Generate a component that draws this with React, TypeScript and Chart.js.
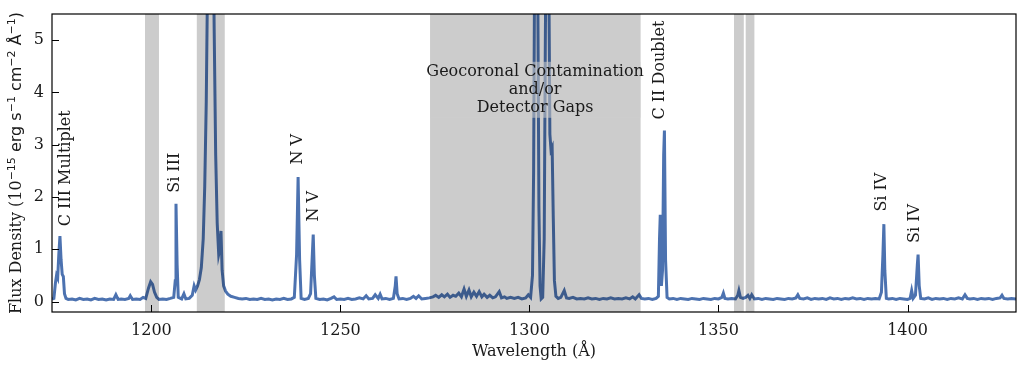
import React, { useEffect, useRef } from "react";
import { Chart, registerables } from "chart.js";

Chart.register(...registerables);

// Spectrum samples: wavelength (Å) and flux density (1e-15 erg s^-1 cm^-2 Å^-1)
const wavelength = [
  1173.7, 1174.2, 1174.6, 1174.9, 1175.2, 1175.5, 1175.8, 1176.1, 1176.4, 1176.7, 1177.0, 1177.4,
  1178, 1179, 1180, 1181, 1182, 1183, 1184, 1185, 1186, 1187, 1188, 1189, 1190, 1190.6, 1191.2,
  1192, 1193, 1194, 1194.4, 1195, 1196, 1197, 1197.8, 1198.5, 1199.2, 1199.8, 1200.3, 1200.8,
  1201.4, 1202, 1203, 1204, 1205, 1205.9, 1206.3, 1206.5, 1206.8, 1207.1, 1208, 1208.6, 1209.1,
  1210, 1210.8, 1211.3, 1211.7, 1212.2, 1212.7, 1213.2, 1213.7, 1214.1, 1214.5, 1214.9, 1215.4,
  1215.8, 1216.2, 1216.6, 1217.0, 1217.4, 1217.8, 1218.1, 1218.4, 1218.7, 1219.1, 1219.6, 1220.2,
  1221, 1222, 1223, 1224, 1225, 1226, 1227, 1228, 1229, 1230, 1231, 1232, 1233, 1234, 1235, 1236,
  1237, 1237.8, 1238.4, 1238.8, 1239.2, 1239.6, 1240.5, 1241.5, 1242.1, 1242.5, 1242.8, 1243.1,
  1243.5, 1244.5, 1245.5, 1246.5, 1247.5, 1248.3, 1249, 1250, 1251, 1252, 1253, 1254, 1255, 1256,
  1256.8, 1257.5, 1258.5, 1259.2, 1260, 1260.5, 1261, 1262, 1263, 1264, 1264.5, 1264.7, 1265,
  1265.5, 1266.5, 1267.5, 1268.5, 1269.3, 1270, 1270.7, 1271.5, 1272.5, 1273.5, 1274.5, 1275.2,
  1276, 1276.8, 1277.5, 1278.3, 1279, 1279.8, 1280.5, 1281.3, 1282, 1282.7, 1283.3, 1284, 1284.6,
  1285.3, 1286, 1286.7, 1287.4, 1288, 1288.8, 1289.5, 1290.3, 1291, 1292, 1292.6, 1293.4, 1294,
  1295, 1296, 1297, 1298, 1299, 1299.7, 1300.3, 1300.8, 1301.1, 1301.4, 1301.8, 1302.2, 1302.5,
  1302.8, 1303.1, 1303.5, 1303.9, 1304.2, 1304.7, 1305.1, 1305.4, 1305.7, 1306.0, 1306.3, 1306.6,
  1307, 1307.6, 1308.3, 1309.2, 1309.8, 1310.5, 1311.5, 1312.5, 1313.5, 1314.5, 1315.5, 1316.5,
  1317.5, 1318.5, 1319.5, 1320.5, 1321.5, 1322.5, 1323.5, 1324.5, 1325.5, 1326.5, 1327.3, 1328,
  1329, 1329.6, 1330.5, 1331.5, 1332.5, 1333.5, 1334.1, 1334.4, 1334.6, 1334.9, 1335.2, 1335.5,
  1335.7, 1336.0, 1336.4, 1337, 1338, 1339, 1340, 1341, 1342, 1343, 1344, 1345, 1346, 1347, 1348,
  1349, 1350, 1350.9, 1351.3, 1351.7, 1352.5, 1353.5, 1354.5, 1355.1, 1355.4, 1355.8, 1356.5,
  1357.2, 1357.8, 1358.3, 1358.8, 1359.5, 1360.5, 1361.5, 1362.5, 1363.5, 1364.5, 1365.5, 1366.5,
  1367.5, 1368.5, 1369.5, 1370.5, 1371, 1371.5, 1372.5, 1373.5, 1374.5, 1375.5, 1376.5, 1377.5,
  1378.5, 1379.5, 1380.5, 1381.5, 1382.5, 1383.5, 1384.5, 1385.5, 1386.5, 1387.5, 1388.5, 1389.5,
  1390.5, 1391.5, 1392.5, 1393.1, 1393.5, 1393.75, 1394.0, 1394.4, 1395, 1396, 1397, 1398, 1399,
  1400, 1400.7, 1401.1, 1401.5, 1402.1, 1402.6, 1402.8, 1403.1, 1403.5, 1404.5, 1405.5, 1406.5,
  1407.5, 1408.5, 1409.5, 1410.5, 1411.5, 1412.5, 1413.5, 1414.5, 1415.2, 1415.8, 1416.5, 1417.5,
  1418.5, 1419.5, 1420.5, 1421.5, 1422.5, 1423.5, 1424.5, 1425, 1425.5, 1426.5, 1427.5, 1428.7,
];

const flux = [
  0.05, 0.06, 0.35, 0.50, 0.45, 0.9, 1.25, 0.8, 0.52, 0.48, 0.15, 0.06,
  0.04, 0.05, 0.03, 0.06, 0.04, 0.05, 0.03, 0.06, 0.04, 0.05, 0.03, 0.05, 0.04, 0.13, 0.04,
  0.05, 0.04, 0.06, 0.11, 0.04, 0.05, 0.04, 0.08, 0.06, 0.25, 0.38, 0.33, 0.18,
  0.08, 0.04, 0.05, 0.04, 0.06, 0.08, 0.4, 1.87, 0.7, 0.08, 0.05, 0.15, 0.05,
  0.06, 0.12, 0.3, 0.22, 0.3, 0.42, 0.65, 1.2, 2.2, 3.8, 6.5, 14,
  16, 8, 5.2, 2.8, 1.5, 0.9, 1.0, 1.35, 0.6, 0.3, 0.2, 0.14,
  0.1, 0.08, 0.06, 0.05, 0.06, 0.04, 0.05, 0.04, 0.06, 0.04, 0.05, 0.03, 0.05, 0.04, 0.06, 0.04,
  0.05, 0.08, 0.9, 2.38, 0.8, 0.06, 0.04, 0.06, 0.15, 0.8, 1.28, 0.5,
  0.06, 0.04, 0.05, 0.03, 0.06, 0.09, 0.04, 0.05, 0.04, 0.06, 0.04, 0.05, 0.07, 0.05,
  0.11, 0.05, 0.06, 0.13, 0.06, 0.14, 0.05, 0.06, 0.04, 0.06, 0.30, 0.48, 0.15,
  0.05, 0.06, 0.04, 0.06, 0.10, 0.06, 0.11, 0.05, 0.06, 0.07, 0.09, 0.12,
  0.08, 0.13, 0.09, 0.14, 0.08, 0.12, 0.10, 0.16, 0.09, 0.24, 0.10, 0.22, 0.09,
  0.18, 0.10, 0.19, 0.09, 0.14, 0.08, 0.12, 0.07, 0.09, 0.19, 0.07, 0.09, 0.06,
  0.08, 0.06, 0.08, 0.05, 0.07, 0.13, 0.08, 0.5, 2.5, 7, 10, 6, 1.8,
  0.3, 0.05, 0.08, 1.2, 5, 10, 6.5, 3.2, 2.9, 2.95, 1.6, 0.4,
  0.1, 0.06, 0.08, 0.21, 0.07, 0.06, 0.08, 0.05, 0.06, 0.05, 0.07, 0.05,
  0.06, 0.04, 0.06, 0.05, 0.07, 0.05, 0.06, 0.05, 0.07, 0.05, 0.09, 0.05,
  0.13, 0.06, 0.05, 0.06, 0.04, 0.06, 0.1, 1.2, 1.66, 0.3, 0.6, 2.8,
  3.27, 0.8, 0.08, 0.05, 0.06, 0.04, 0.06, 0.05, 0.04, 0.06, 0.05, 0.04, 0.06, 0.05, 0.04,
  0.06, 0.05, 0.08, 0.16, 0.06, 0.05, 0.06, 0.05, 0.12, 0.21, 0.08, 0.06,
  0.08, 0.12, 0.06, 0.13, 0.05, 0.06, 0.04, 0.06, 0.05, 0.04, 0.06, 0.05,
  0.04, 0.06, 0.05, 0.07, 0.13, 0.06, 0.05, 0.07, 0.04, 0.06, 0.05, 0.06,
  0.04, 0.07, 0.05, 0.06, 0.04, 0.06, 0.05, 0.07, 0.05, 0.06, 0.04, 0.06,
  0.05, 0.06, 0.05, 0.18, 0.9, 1.48, 0.6, 0.06, 0.05, 0.06, 0.04, 0.06, 0.05,
  0.04, 0.06, 0.21, 0.06, 0.12, 0.7, 0.9, 0.3, 0.06, 0.05, 0.07, 0.04,
  0.06, 0.05, 0.06, 0.04, 0.06, 0.05, 0.07, 0.05, 0.13, 0.06, 0.05, 0.06,
  0.04, 0.06, 0.05, 0.06, 0.04, 0.06, 0.07, 0.12, 0.06, 0.05, 0.06, 0.05,
];

const xTicks = [1200, 1250, 1300, 1350, 1400];
const yTicks = [0, 1, 2, 3, 4, 5];

// shaded wavelength ranges (geocoronal contamination / detector gaps)
const maskStart = [1198.3, 1212.0, 1273.7, 1354.1, 1357.2];
const maskEnd = [1202.0, 1219.4, 1329.4, 1356.7, 1359.5];

// emission-line labels
const lineLabels = ["C III Multiplet", "Si III", "N V", "N V", "C II Doublet", "Si IV", "Si IV"];
const labelWave = [1177.3, 1206.3, 1238.6, 1242.9, 1334.5, 1393.2, 1402.0];
const labelFlux = [1.44, 2.08, 2.62, 1.53, 3.48, 1.72, 1.12];

const maskText = ["Geocoronal Contamination", "and/or", "Detector Gaps"];
const maskTextWave = 1301.5;
const maskTextFlux = 4.05;

const xTitle = "Wavelength (Å)";

const SERIF = '"DejaVu Serif", serif';
const SANS = '"DejaVu Sans", sans-serif';
const TEXT = "#1a1a1a";
const FS = 16;

const overlayPlugin = {
  id: "overlay",
  afterDatasetsDraw(chart: any) {
    const { ctx, chartArea: a } = chart;
    const xs = chart.scales.x;
    const ys = chart.scales.y;
    ctx.save();
    ctx.beginPath();
    ctx.rect(a.left, a.top, a.right - a.left, a.bottom - a.top);
    ctx.clip();
    ctx.fillStyle = "rgba(0,0,0,0.2)";
    for (let i = 0; i < maskStart.length; i++) {
      const x0 = xs.getPixelForValue(maskStart[i]);
      const x1 = xs.getPixelForValue(maskEnd[i]);
      ctx.fillRect(x0, a.top, x1 - x0, a.bottom - a.top);
    }
    ctx.restore();

    // central label with a translucent box (visible only inside the big shaded band)
    ctx.save();
    ctx.font = `${FS}px ${SERIF}`;
    const cx = xs.getPixelForValue(maskTextWave);
    const cy = ys.getPixelForValue(maskTextFlux);
    const lh = 18;
    let w = 0;
    for (const t of maskText) w = Math.max(w, ctx.measureText(t).width);
    const bx0 = xs.getPixelForValue(maskStart[2]);
    const bx1 = xs.getPixelForValue(maskEnd[2]);
    ctx.save();
    ctx.beginPath();
    ctx.rect(bx0, a.top, bx1 - bx0, a.bottom - a.top);
    ctx.clip();
    ctx.fillStyle = "rgba(204,204,204,0.55)";
    ctx.fillRect(cx - w / 2 - 2, cy - lh * 1.5 - 1, w + 4, lh * 3 + 2);
    ctx.restore();
    ctx.fillStyle = TEXT;
    ctx.textAlign = "center";
    ctx.textBaseline = "middle";
    maskText.forEach((t, i) => ctx.fillText(t, cx, cy - lh + i * lh));
    ctx.restore();

    // rotated line labels
    ctx.save();
    ctx.font = `${FS}px ${SERIF}`;
    ctx.fillStyle = TEXT;
    for (let i = 0; i < lineLabels.length; i++) {
      const px = xs.getPixelForValue(labelWave[i]);
      const py = ys.getPixelForValue(labelFlux[i]);
      ctx.save();
      ctx.translate(px, py);
      ctx.rotate(-Math.PI / 2);
      ctx.textAlign = "left";
      ctx.textBaseline = "middle";
      ctx.fillText(lineLabels[i], 0, 0);
      ctx.restore();
    }
    ctx.restore();
  },
  afterDraw(chart: any) {
    const { ctx, chartArea: a } = chart;
    const xs = chart.scales.x;
    const ys = chart.scales.y;
    ctx.save();
    ctx.strokeStyle = "#000";
    ctx.lineWidth = 1.2;
    ctx.strokeRect(a.left, a.top, a.right - a.left, a.bottom - a.top);
    ctx.lineWidth = 1;
    ctx.beginPath();
    for (const v of xTicks) {
      const px = Math.round(xs.getPixelForValue(v)) + 0.5;
      ctx.moveTo(px, a.bottom);
      ctx.lineTo(px, a.bottom - 7);
    }
    for (const v of yTicks) {
      const py = Math.round(ys.getPixelForValue(v)) + 0.5;
      ctx.moveTo(a.left, py);
      ctx.lineTo(a.left + 7, py);
    }
    ctx.stroke();

    // x title
    ctx.fillStyle = TEXT;
    ctx.font = `${FS}px ${SERIF}`;
    ctx.textAlign = "center";
    ctx.textBaseline = "middle";
    ctx.fillText(xTitle, (a.left + a.right) / 2, 352);

    // y title with superscripts
    const segs: [string, string, boolean][] = [
      ["Flux Density (10", `${FS}px ${SERIF}`, false],
      ["−15", `11px ${SANS}`, true],
      [" erg s", `${FS}px ${SANS}`, false],
      ["−1", `11px ${SANS}`, true],
      [" cm", `${FS}px ${SANS}`, false],
      ["−2", `11px ${SANS}`, true],
      [" Å", `${FS}px ${SANS}`, false],
      ["−1", `11px ${SANS}`, true],
      [")", `${FS}px ${SANS}`, false],
    ];
    let total = 0;
    for (const s of segs) {
      ctx.font = s[1];
      total += ctx.measureText(s[0]).width;
    }
    ctx.translate(15, (a.top + a.bottom) / 2);
    ctx.rotate(-Math.PI / 2);
    ctx.textAlign = "left";
    ctx.textBaseline = "alphabetic";
    let x = -total / 2;
    for (const s of segs) {
      ctx.font = s[1];
      ctx.fillText(s[0], x, s[2] ? -0.5 : 5.5);
      x += ctx.measureText(s[0]).width;
    }
    ctx.restore();
  },
};

export default function App() {
  const ref = useRef<HTMLCanvasElement | null>(null);
  useEffect(() => {
    if (!ref.current) return;
    const points = wavelength.map((w, i) => ({ x: w, y: flux[i] }));
    const chart = new Chart(ref.current, {
      type: "line",
      data: {
        datasets: [
          {
            data: points,
            borderColor: "#4C72B0",
            borderWidth: 3,
            pointRadius: 0,
            tension: 0,
            fill: false,
          },
        ],
      },
      options: {
        animation: false,
        responsive: false,
        layout: { autoPadding: false, padding: { top: 14, right: 8, left: 0, bottom: 0 } },
        plugins: { legend: { display: false }, tooltip: { enabled: false } },
        scales: {
          x: {
            type: "linear",
            min: 1173.7,
            max: 1428.7,
            afterBuildTicks: (s: any) => {
              s.ticks = xTicks.map((v) => ({ value: v }));
            },
            afterFit: (s: any) => {
              s.height = 55;
              s.paddingLeft = 0;
              s.paddingRight = 0;
            },
            grid: { display: false, drawTicks: false },
            border: { display: false },
            ticks: {
              padding: 9,
              color: TEXT,
              font: { family: SERIF, size: FS },
              maxRotation: 0,
              callback: (v: any) => String(v),
            },
          },
          y: {
            type: "linear",
            min: -0.2,
            max: 5.5,
            afterBuildTicks: (s: any) => {
              s.ticks = yTicks.map((v) => ({ value: v }));
            },
            afterFit: (s: any) => {
              s.width = 52;
              s.paddingTop = 0;
              s.paddingBottom = 0;
            },
            grid: { display: false, drawTicks: false },
            border: { display: false },
            ticks: {
              padding: 8,
              color: TEXT,
              font: { family: SERIF, size: FS },
              callback: (v: any) => String(v),
            },
          },
        },
      },
      plugins: [overlayPlugin],
    });
    return () => chart.destroy();
  }, []);
  return (
    <div style={{ position: "absolute", left: 0, top: 0, width: 1024, height: 367, background: "#fff" }}>
      <canvas ref={ref} width={1024} height={367} style={{ width: 1024, height: 367, display: "block" }} />
    </div>
  );
}
